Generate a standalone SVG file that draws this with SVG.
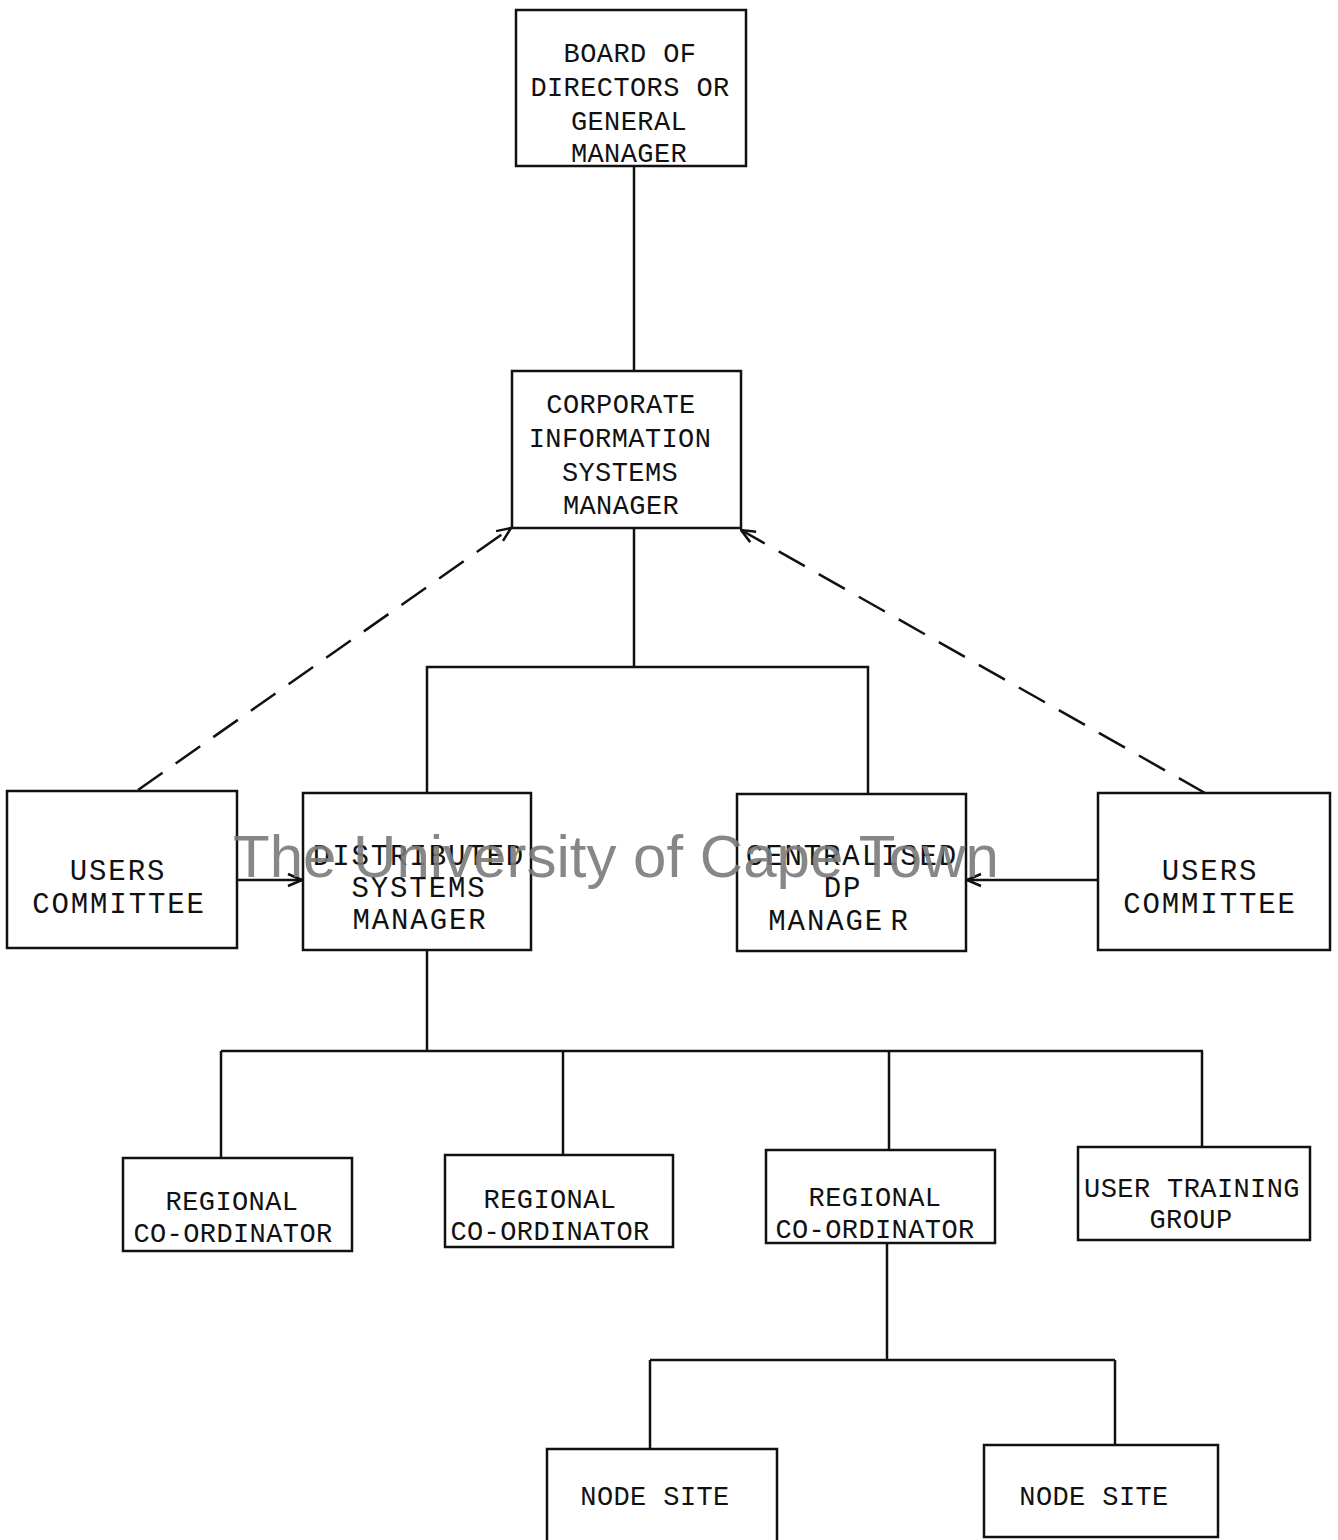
<svg xmlns="http://www.w3.org/2000/svg" width="1338" height="1540" viewBox="0 0 1338 1540">
<style>
.box{fill:none;stroke:#111;stroke-width:2.5}
.ln{fill:none;stroke:#111;stroke-width:2.5}
.dash{fill:none;stroke:#111;stroke-width:2.5;stroke-dasharray:30 16}
.e{font-family:"Liberation Mono","Courier New",monospace;font-size:27px;letter-spacing:0.4px;fill:#111;text-anchor:middle}
.p{font-family:"Liberation Mono","Courier New",monospace;font-size:29px;letter-spacing:1.9px;fill:#111;text-anchor:middle}
.wm{font-family:"Liberation Sans",Arial,sans-serif;font-size:60px;fill:#7a7a7a;fill-opacity:0.9}
</style>
<defs>
<marker id="arr" viewBox="0 0 16 16" refX="15" refY="8" markerWidth="16" markerHeight="16" markerUnits="userSpaceOnUse" orient="auto">
<path d="M1,2 L15,8 L1,14" fill="none" stroke="#111" stroke-width="2.5"/>
</marker>
</defs>
<rect width="1338" height="1540" fill="#fff"/>
<g id="connectors">
<line class="ln" x1="634" y1="166" x2="634" y2="370"/>
<polyline class="ln" points="634,528 634,667"/>
<polyline class="ln" points="427,793 427,667 868,667 868,793"/>
<line class="dash" x1="138" y1="790" x2="511" y2="528" marker-end="url(#arr)"/>
<line class="dash" x1="1205" y1="793" x2="741" y2="530" marker-end="url(#arr)"/>
<line class="ln" x1="237" y1="880" x2="302" y2="880" marker-end="url(#arr)"/>
<line class="ln" x1="1098" y1="880" x2="967" y2="880" marker-end="url(#arr)"/>
<line class="ln" x1="427" y1="950" x2="427" y2="1051"/>
<line class="ln" x1="221" y1="1051" x2="1203" y2="1051"/>
<line class="ln" x1="221" y1="1051" x2="221" y2="1158"/>
<line class="ln" x1="563" y1="1051" x2="563" y2="1155"/>
<line class="ln" x1="889" y1="1051" x2="889" y2="1150"/>
<line class="ln" x1="1202" y1="1051" x2="1202" y2="1147"/>
<line class="ln" x1="887" y1="1243" x2="887" y2="1360"/>
<line class="ln" x1="650" y1="1360" x2="1115" y2="1360"/>
<line class="ln" x1="650" y1="1360" x2="650" y2="1449"/>
<line class="ln" x1="1115" y1="1360" x2="1115" y2="1445"/>
</g>
<g id="board">
<rect class="box" x="516" y="10" width="230" height="156"/>
<text class="e" x="630" y="62">BOARD OF</text>
<text class="e" x="630" y="96">DIRECTORS OR</text>
<text class="e" x="629" y="130">GENERAL</text>
<text class="e" x="629" y="162">MANAGER</text>
</g>
<g id="cism">
<rect class="box" x="512" y="371" width="229" height="157"/>
<text class="e" x="621" y="413">CORPORATE</text>
<text class="e" x="620" y="447">INFORMATION</text>
<text class="e" x="620" y="481">SYSTEMS</text>
<text class="e" x="621" y="514">MANAGER</text>
</g>
<g id="users-left">
<rect class="box" x="7" y="791" width="230" height="157"/>
<text class="p" x="118" y="880">USERS</text>
<text class="p" x="119" y="913">COMMITTEE</text>
</g>
<g id="distributed">
<rect class="box" x="303" y="793" width="228" height="157"/>
<text class="p" x="419" y="865">DISTRIBUTED</text>
<text class="p" x="419" y="897">SYSTEMS</text>
<text class="p" x="420" y="929">MANAGER</text>
</g>
<g id="centralised">
<rect class="box" x="737" y="794" width="229" height="157"/>
<text class="p" x="852" y="865">CENTRALISED</text>
<text class="p" x="843" y="897">DP</text>
<text class="p" x="839" y="930" style="word-spacing:-13px">MANAGE R</text>
</g>
<g id="users-right">
<rect class="box" x="1098" y="793" width="232" height="157"/>
<text class="p" x="1210" y="880">USERS</text>
<text class="p" x="1210" y="913">COMMITTEE</text>
</g>
<g id="regional-1">
<rect class="box" x="123" y="1158" width="229" height="93"/>
<text class="e" x="232" y="1210">REGIONAL</text>
<text class="e" x="233" y="1242">CO-ORDINATOR</text>
</g>
<g id="regional-2">
<rect class="box" x="445" y="1155" width="228" height="92"/>
<text class="e" x="550" y="1208">REGIONAL</text>
<text class="e" x="550" y="1240">CO-ORDINATOR</text>
</g>
<g id="regional-3">
<rect class="box" x="766" y="1150" width="229" height="93"/>
<text class="e" x="875" y="1206">REGIONAL</text>
<text class="e" x="875" y="1238">CO-ORDINATOR</text>
</g>
<g id="user-training">
<rect class="box" x="1078" y="1147" width="232" height="93"/>
<text class="e" x="1192" y="1197">USER TRAINING</text>
<text class="e" x="1191" y="1228">GROUP</text>
</g>
<g id="node-site-1">
<rect class="box" x="547" y="1449" width="230" height="100"/>
<text class="e" x="655" y="1505">NODE SITE</text>
</g>
<g id="node-site-2">
<rect class="box" x="984" y="1445" width="234" height="92"/>
<text class="e" x="1094" y="1505">NODE SITE</text>
</g>
<text class="wm" x="233" y="877">The University of Cape Town</text>
</svg>
